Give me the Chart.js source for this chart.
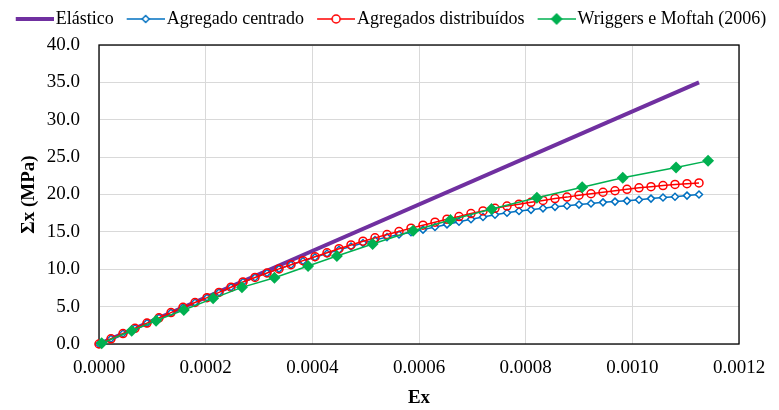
<!doctype html>
<html lang="pt">
<head>
<meta charset="utf-8">
<title>Σx x Ex</title>
<script src="https://cdn.jsdelivr.net/npm/chart.js"></script>
<style>
  html, body { margin: 0; padding: 0; background: #fff; }
</style>
</head>
<body>
<canvas id="chart" width="779" height="410"></canvas>
<script>
// curva elástica (reta)
var elasticX = [0, 0.001125];
var elasticY = [0, 35.0];

// deformações comuns às duas simulações
var strainX = [0, 0.0000225, 0.000045, 0.0000675, 0.00009, 0.0001125, 0.000135, 0.0001575, 0.00018, 0.0002025,
    0.000225, 0.0002475, 0.00027, 0.0002925, 0.000315, 0.0003375, 0.00036, 0.0003825, 0.000405, 0.0004275,
    0.00045, 0.0004725, 0.000495, 0.0005175, 0.00054, 0.0005625, 0.000585, 0.0006075, 0.00063, 0.0006525,
    0.000675, 0.0006975, 0.00072, 0.0007425, 0.000765, 0.0007875, 0.00081, 0.0008325, 0.000855, 0.0008775,
    0.0009, 0.0009225, 0.000945, 0.0009675, 0.00099, 0.0010125, 0.001035, 0.0010575, 0.00108, 0.0011025, 0.001125];

var centradoY = [0, 0.7, 1.4, 2.1, 2.8, 3.5, 4.2, 4.9, 5.55, 6.2,
    6.9, 7.6, 8.3, 8.9, 9.5, 10.05, 10.6, 11.1, 11.6, 12.1,
    12.6, 13.05, 13.5, 13.9, 14.3, 14.65, 14.95, 15.3, 15.65, 16.0,
    16.35, 16.7, 17.0, 17.3, 17.55, 17.8, 17.95, 18.15, 18.35, 18.5,
    18.65, 18.8, 18.95, 19.05, 19.15, 19.3, 19.45, 19.6, 19.7, 19.85, 20.0];

var distribuidosY = [0, 0.7, 1.4, 2.1, 2.8, 3.5, 4.2, 4.9, 5.55, 6.2,
    6.9, 7.6, 8.3, 8.9, 9.5, 10.05, 10.6, 11.15, 11.68, 12.2,
    12.75, 13.25, 13.75, 14.2, 14.65, 15.05, 15.5, 15.9, 16.3, 16.7,
    17.05, 17.45, 17.8, 18.15, 18.45, 18.7, 18.95, 19.2, 19.45, 19.65,
    19.9, 20.1, 20.3, 20.5, 20.7, 20.9, 21.05, 21.2, 21.35, 21.45, 21.55];

// Wriggers e Moftah (2006)
var wriggersX = [0.000005, 0.0000613, 0.000107, 0.000159, 0.000214, 0.000268, 0.000329, 0.000392, 0.000446,
    0.000513, 0.000589, 0.000659, 0.000736, 0.000821, 0.000906, 0.000982, 0.001082, 0.001142];
var wriggersY = [0.1, 1.78, 3.12, 4.55, 6.11, 7.58, 8.87, 10.43, 11.77,
    13.38, 15.16, 16.59, 18.06, 19.57, 20.96, 22.25, 23.6, 24.5];

var seriesNames = ['Elástico', 'Agregado centrado', 'Agregados distribuídos', 'Wriggers e Moftah (2006)'];
var xTicks = [0, 0.0002, 0.0004, 0.0006, 0.0008, 0.0010, 0.0012];
var yTicks = [0, 5, 10, 15, 20, 25, 30, 35, 40];

function pts(xs, ys) {
    return xs.map(function (x, i) { return {x: x, y: ys[i]}; });
}

// little line+marker images for the legend
function legendIcon(color, lineW, marker) {
    var c = document.createElement('canvas');
    c.width = 48; c.height = 14;
    var g = c.getContext('2d');
    g.strokeStyle = color; g.lineWidth = lineW;
    g.beginPath(); g.moveTo(10, 7); g.lineTo(48, 7); g.stroke();
    g.lineWidth = 1.5;
    var cx = 29;
    if (marker === 'diamond') {
        g.fillStyle = '#fff';
        g.beginPath(); g.moveTo(cx, 3.5); g.lineTo(cx + 3.5, 7); g.lineTo(cx, 10.5); g.lineTo(cx - 3.5, 7); g.closePath();
        g.fill(); g.stroke();
    } else if (marker === 'circle') {
        g.fillStyle = '#fff';
        g.beginPath(); g.arc(cx, 7, 4, 0, Math.PI * 2); g.fill(); g.stroke();
    } else if (marker === 'solid') {
        g.fillStyle = color;
        g.beginPath(); g.moveTo(cx, 1); g.lineTo(cx + 6, 7); g.lineTo(cx, 13); g.lineTo(cx - 6, 7); g.closePath();
        g.fill();
    }
    return c;
}

var plotBorder = {
    id: 'plotBorder',
    beforeLayout: function (chart) {
        // leave the legend row 45px tall, as in the original
        var lg = chart.legend;
        if (lg && !lg._tall) {
            var fit = lg.fit;
            lg.fit = function () { fit.call(this); this.height = 45; };
            lg._tall = true;
        }
    },
    beforeDatasetsDraw: function (chart) {
        var a = chart.chartArea, ctx = chart.ctx;
        ctx.save();
        ctx.strokeStyle = '#000';
        ctx.lineWidth = 1.3;
        ctx.strokeRect(a.left, a.top, a.right - a.left, a.bottom - a.top);
        ctx.restore();
    }
};

var serif = 'Liberation Serif, Times New Roman, serif';
var icons = [legendIcon('#7030A0', 4, null), legendIcon('#0070C0', 1.5, 'diamond'),
    legendIcon('#FF0000', 1.5, 'circle'), legendIcon('#00B050', 1.5, 'solid')];

var ctx = document.getElementById('chart');
var myChart = new Chart(ctx, {
    type: 'line',
    data: {
        datasets: [{
            label: seriesNames[0],
            data: pts(elasticX, elasticY),
            borderColor: '#7030A0',
            borderWidth: 4,
            pointRadius: 0,
            order: 3
        }, {
            label: seriesNames[1],
            data: pts(strainX, centradoY),
            borderColor: '#0070C0',
            borderWidth: 1.5,
            pointStyle: 'rectRot',
            pointRadius: 3.5,
            pointBorderWidth: 1.5,
            pointBackgroundColor: '#fff',
            order: 2
        }, {
            label: seriesNames[2],
            data: pts(strainX, distribuidosY),
            borderColor: '#FF0000',
            borderWidth: 1.5,
            pointStyle: 'circle',
            pointRadius: 4,
            pointBorderWidth: 1.5,
            pointBackgroundColor: 'rgba(255,255,255,0)',
            order: 1
        }, {
            label: seriesNames[3],
            data: pts(wriggersX, wriggersY),
            borderColor: '#00B050',
            backgroundColor: '#00B050',
            borderWidth: 1.5,
            pointStyle: 'rectRot',
            pointRadius: 6,
            pointBorderWidth: 0,
            pointBackgroundColor: '#00B050',
            order: 0
        }]
    },
    options: {
        responsive: false,
        animation: false,
        datasets: {line: {clip: false, tension: 0}},
        layout: {padding: {left: 0, right: 0, top: 0, bottom: 0}},
        plugins: {
            legend: {
                position: 'top',
                labels: {
                    usePointStyle: true,
                    pointStyleWidth: 34,
                    padding: 10,
                    color: '#000',
                    font: {family: serif, size: 18},
                    sort: function (a, b) { return a.datasetIndex - b.datasetIndex; },
                    generateLabels: function (chart) {
                        return chart.data.datasets.map(function (ds, i) {
                            return {
                                text: ds.label, datasetIndex: i, pointStyle: icons[i],
                                fillStyle: ds.borderColor, strokeStyle: ds.borderColor,
                                lineWidth: 0, hidden: false, fontColor: '#000'
                            };
                        });
                    }
                }
            },
            tooltip: {enabled: false}
        },
        scales: {
            x: {
                type: 'linear',
                min: 0,
                max: 0.0012,
                afterBuildTicks: function (s) { s.ticks = xTicks.map(function (v) { return {value: v}; }); },
                afterFit: function (s) { s.height = 66; },
                ticks: {
                    callback: function (v) { return v.toFixed(4); },
                    color: '#000', padding: 13, maxRotation: 0,
                    font: {family: serif, size: 19}
                },
                grid: {color: '#d9d9d9', drawTicks: false},
                border: {display: false},
                title: {
                    display: true, text: 'Ex', color: '#000',
                    font: {family: serif, size: 19, weight: 'bold'},
                    padding: {top: 0, bottom: 1}
                }
            },
            y: {
                min: 0,
                max: 40,
                afterBuildTicks: function (s) { s.ticks = yTicks.map(function (v) { return {value: v}; }); },
                afterFit: function (s) { s.width = 99; },
                ticks: {
                    callback: function (v) { return v.toFixed(1); },
                    color: '#000', padding: 19,
                    font: {family: serif, size: 19}
                },
                grid: {color: '#d9d9d9', drawTicks: false},
                border: {display: false},
                title: {
                    display: true, text: 'Σx (MPa)', color: '#000',
                    font: {family: serif, size: 19, weight: 'bold'},
                    padding: {top: 18, bottom: 0}
                }
            },
            // empty right-hand margin
            yRight: {
                position: 'right',
                min: 0,
                max: 40,
                afterFit: function (s) { s.width = 40; },
                ticks: {display: false},
                grid: {display: false},
                border: {display: false}
            }
        }
    },
    plugins: [plotBorder]
});
</script>
</body>
</html>
